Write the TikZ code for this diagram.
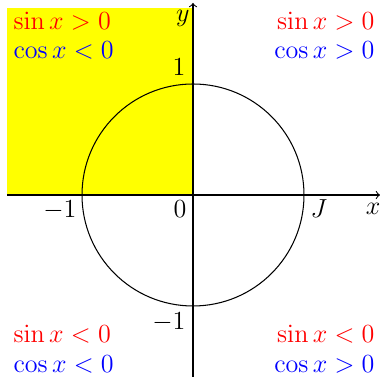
\documentclass[tikz,border=0pt]{standalone}
\usetikzlibrary{arrows}
\definecolor{yel}{RGB}{255,255,0}
\definecolor{rd}{RGB}{255,0,0}
\definecolor{bl}{RGB}{0,0,255}
\begin{document}
\begin{tikzpicture}[x=0.46pt,y=-0.46pt,line width=0.48pt,
  font=\fontsize{12}{14}\selectfont,
  lbl/.style={inner sep=0pt},
  sinr/.style={inner sep=0pt,text=rd},
  cosb/.style={inner sep=0pt,text=bl}]
\useasboundingbox (0,0) rectangle (380,377);
\fill[yel] (7,8) rectangle (193,195);
\coordinate (O) at (193,195);
\coordinate (xs) at (7,195);
\coordinate (xe) at (380,195);
\coordinate (ys) at (193,377);
\coordinate (ye) at (193,3);
\draw[->] (xs) -- (xe);
\draw[->] (ys) -- (ye);
\draw (O) circle[radius=111];
% quadrant texts
\node[sinr,anchor=base west] (s1) at (13,30) {$\sin x>0$};
\node[cosb,anchor=base west] (c1) at (13,59) {$\cos x<0$};
\node[sinr,anchor=base east] (s2) at (375,30) {$\sin x>0$};
\node[cosb,anchor=base east] (c2) at (375,59) {$\cos x>0$};
\node[sinr,anchor=base west] (s3) at (13,343) {$\sin x<0$};
\node[cosb,anchor=base west] (c3) at (13,373) {$\cos x<0$};
\node[sinr,anchor=base east] (s4) at (375,343) {$\sin x<0$};
\node[cosb,anchor=base east] (c4) at (375,373) {$\cos x>0$};
% axis labels
\node[lbl,anchor=base east] (ly) at (190,22) {$y$};
\node[lbl,anchor=base east] (l1) at (186,76) {$1$};
\node[lbl,anchor=base east] (lm1) at (77,218) {$-1$};
\node[lbl,anchor=base east] (l0) at (187,218) {$0$};
\node[lbl,anchor=base west] (lJ) at (310,218) {$J$};
\node[lbl,anchor=base east] (lx) at (381,215) {$x$};
\node[lbl,anchor=base east] (lm1y) at (186,330) {$-1$};
\end{tikzpicture}
\end{document}
